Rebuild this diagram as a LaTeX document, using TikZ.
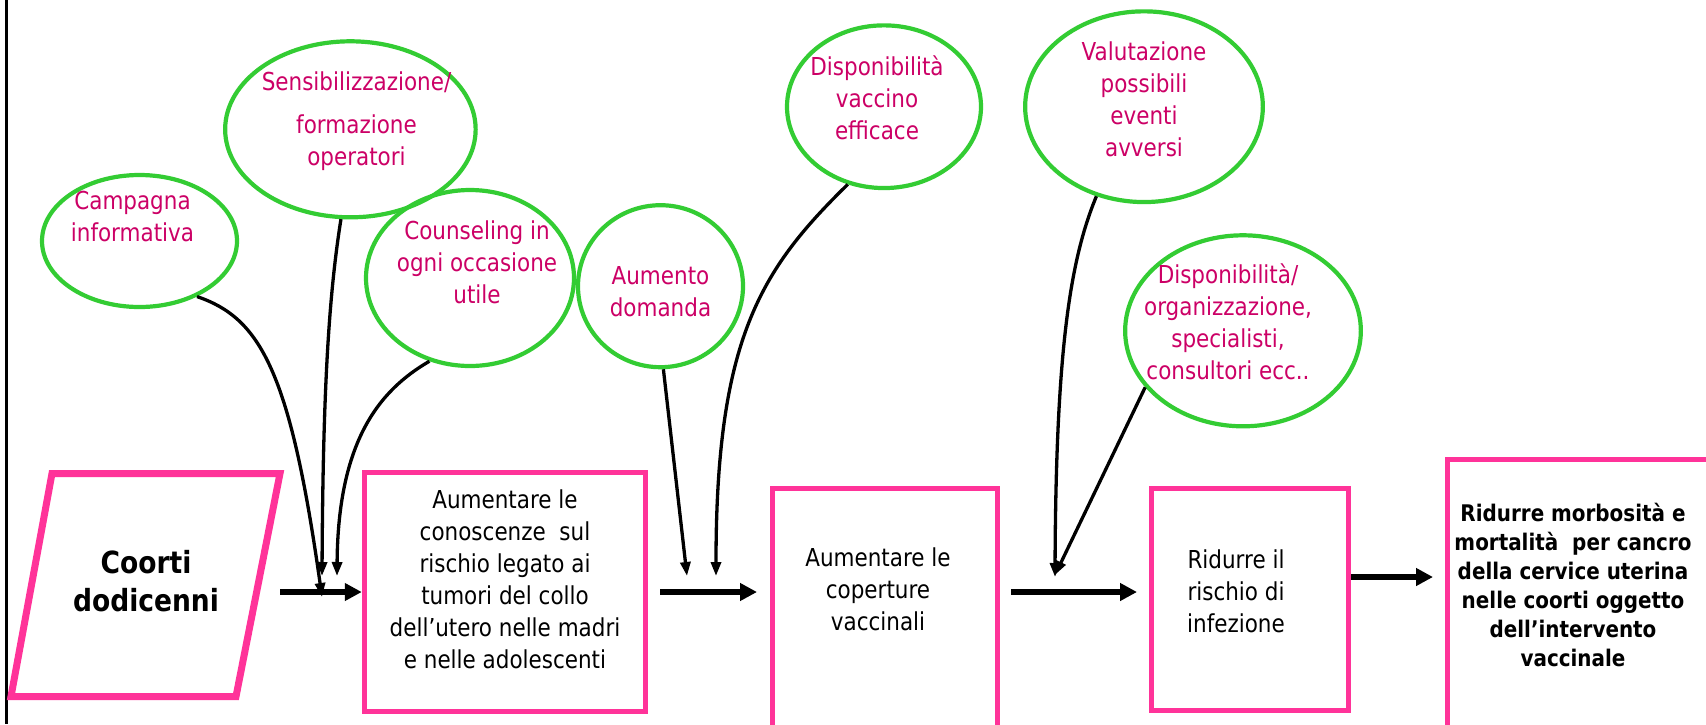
\documentclass[tikz,border=0pt]{standalone}
\usepackage{fontspec}
\setmainfont{DejaVu Sans}[FakeStretch=0.87]
\usetikzlibrary{shapes.geometric,arrows.meta}
\definecolor{ellgreen}{RGB}{51,204,51}
\definecolor{txtmag}{RGB}{204,0,102}
\definecolor{boxpink}{RGB}{255,51,153}
\begin{document}
\begin{tikzpicture}[x=1pt,y=-1pt,
  ell/.style={draw=ellgreen, line width=4.2pt, ellipse, inner sep=0pt},
  etext/.style={text=txtmag, align=center, inner sep=0pt, font=\fontsize{24.7}{32}\selectfont},
  pbox/.style={draw=boxpink, line width=5.5pt, rectangle, inner sep=0pt},
  btext/.style={align=center, inner sep=0pt, font=\fontsize{24.7}{32}\selectfont},
  bbold/.style={align=center, inner sep=0pt, font=\bfseries\fontsize{22.9}{29}\selectfont},
  conn/.style={draw=black, line width=3.3pt, -{Triangle[length=14pt,width=10pt]}},
  bigarrow/.style={draw=black, line width=6pt, -{Triangle[length=17pt,width=17pt]}}
]
\fill[white] (0,0) rectangle (1706,724);
\useasboundingbox (0,0) rectangle (1706,724);
% left border
\draw[line width=3pt] (6,0) -- (6,724);

% ellipses
\node[ell, minimum width=195, minimum height=132] (e1) at (139.5,241) {};
\node[ell, minimum width=250.5, minimum height=176] (e2) at (350.4,129.3) {};
\node[ell, minimum width=208, minimum height=176] (e3) at (470,278) {};
\node[ell, minimum width=165, minimum height=162] (e4) at (660.5,286.2) {};
\node[ell, minimum width=194, minimum height=162.7] (e5) at (884,106.7) {};
\node[ell, minimum width=237.7, minimum height=190.7] (e6) at (1144,106.7) {};
\node[ell, minimum width=235.7, minimum height=191] (e7) at (1243,330.8) {};

\node[etext] (t1) at (132.5,217) {Campagna\\informativa};
\node[etext] (t2) at (356.5,121) {Sensibilizzazione/\\[11pt]formazione\\operatori};
\node[etext] (t3) at (477,262) {Counseling in\\ogni occasione\\utile};
\node[etext] (t4) at (660.5,291.6) {Aumento\\domanda};
\node[etext] (t5) at (877,97.8) {Disponibilità\\vaccino\\efficace};
\node[etext] (t6) at (1144,99) {Valutazione\\possibili\\eventi\\avversi};
\node[etext] (t7) at (1228,322) {Disponibilità/\\organizzazione,\\specialisti,\\consultori ecc..};

% parallelogram
\draw[boxpink, line width=7pt, line join=miter] (52,473.5) -- (280,473.5) -- (236,696.5) -- (11,696.5) -- cycle;
\node[bbold, font=\bfseries\fontsize{30.5}{38}\selectfont] (par) at (146,580.8) {Coorti\\dodicenni};

% boxes
\node[pbox, minimum width=281, minimum height=239] (b1) at (505,592) {};
\begin{scope}
\clip (0,0) rectangle (1706,724);
\node[pbox, minimum width=225, minimum height=271.5] (b2) at (885,624.25) {};
\node[pbox, minimum width=312.5, minimum height=300.5] (b4) at (1603.75,609.75) {};
\end{scope}
\node[pbox, minimum width=197, minimum height=222] (b3) at (1250,599.5) {};

\node[btext] (b1t) at (505,579.6) {Aumentare le\\conoscenze~ sul\\rischio legato ai\\tumori del collo\\dell’utero nelle madri\\e nelle adolescenti};
\node[btext] (b2t) at (878,589) {Aumentare le\\coperture\\vaccinali};
\node[btext] (b3t) at (1236,591) {Ridurre il\\rischio di\\infezione};
\node[bbold] (b4t) at (1573,584.8) {Ridurre morbosità e\\mortalità~ per cancro\\della cervice uterina\\nelle coorti oggetto\\dell’intervento\\vaccinale};

% thick arrows
\coordinate (a1s) at (280,592);
\coordinate (a2s) at (660,592);
\coordinate (a2e) at (757,592);
\coordinate (a3s) at (1011,592);
\coordinate (a3e) at (1137,592);
\coordinate (a4s) at (1351,577);
\coordinate (a4e) at (1433,577);
\draw[bigarrow] (a1s) -- (b1.west);
\draw[bigarrow] (a2s) -- (a2e);
\draw[bigarrow] (a3s) -- (a3e);
\draw[bigarrow] (a4s) -- (a4e);

% thin connectors
\coordinate (k1) at (322,597);
\coordinate (k2) at (322,576);
\coordinate (k3) at (337,576);
\coordinate (k4) at (687,576);
\coordinate (k5) at (716,576);
\coordinate (k6) at (1055,577);
\coordinate (k7) at (1055,575);
\draw[conn] (e1.-44) .. controls (260,318) and (290,370) .. (k1);
\draw[conn] (e2.-96) .. controls (328,300) and (323,400) .. (k2);
\draw[conn] (e3.-116) .. controls (380,390) and (338,440) .. (k3);
\draw[conn] (e4.-88) -- (k4);
\draw[conn] (e5.-115) .. controls (760,270) and (716,340) .. (k5);
\draw[conn] (e6.-118) .. controls (1070,260) and (1056,350) .. (k6);
\draw[conn] (e7.-150) -- (k7);
\end{tikzpicture}
\end{document}
